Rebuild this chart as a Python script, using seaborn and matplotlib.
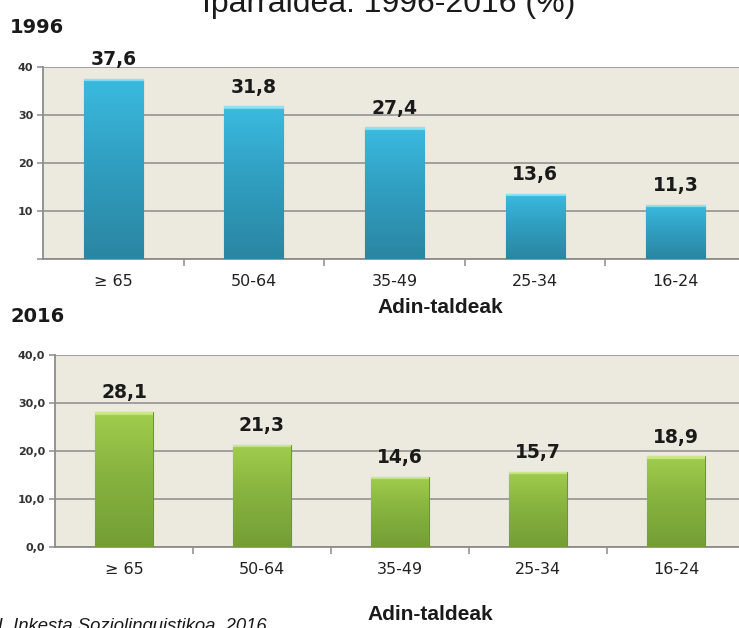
import numpy as np
import pandas as pd
import matplotlib
matplotlib.use("Agg")
import matplotlib.pyplot as plt
import seaborn as sns
from matplotlib.colors import LinearSegmentedColormap

# data
groups = ["≥ 65", "50-64", "35-49", "25-34", "16-24"]
share_1996 = [37.6, 31.8, 27.4, 13.6, 11.3]
share_2016 = [28.1, 21.3, 14.6, 15.7, 18.9]
ticks_1996 = [0, 10, 20, 30, 40]
ticklabels_1996 = ["", "10", "20", "30", "40"]
ticks_2016 = [0, 10, 20, 30, 40]
ticklabels_2016 = ["0,0", "10,0", "20,0", "30,0", "40,0"]

sns.set_style("white")
plt.rcParams["font.family"] = ["DejaVu Sans"]

BG = "#ECE9DF"
GRID = "#8C8C8C"

blue_cmap = LinearSegmentedColormap.from_list(
    "b", [(0, "#2A86A2"), (0.5, "#31A0C2"), (0.9, "#3ABBE0"), (1.0, "#8AE4F6")])
green_cmap = LinearSegmentedColormap.from_list(
    "g", [(0, "#749E35"), (0.5, "#88B440"), (0.9, "#A1CD4D"), (1.0, "#CBE88A")])


def draw_panel(ax, values, ticks, ticklabels, cmap, base_color, edge):
    df = pd.DataFrame({"group": groups, "value": values})
    sns.barplot(data=df, x="group", y="value", ax=ax, width=0.42,
                color=base_color, saturation=1, edgecolor=edge, linewidth=0.8, zorder=3)
    # vertical gradient clipped to each bar, thin highlight at the top edge
    for patch in ax.patches:
        x0, y0 = patch.get_x(), patch.get_y()
        w, h = patch.get_width(), patch.get_height()
        n = max(int(h / 0.05), 2)
        pos = np.linspace(0, h, n)
        grad = np.where(pos > h - 0.6, 1.0, 0.9 * pos / h).reshape(-1, 1)
        im = ax.imshow(grad, extent=[x0, x0 + w, y0, y0 + h], origin="lower",
                       aspect="auto", cmap=cmap, zorder=3.5, vmin=0, vmax=1,
                       interpolation="bilinear")
        im.set_clip_path(patch)
    ax.set_xlim(-0.5, 4.5)
    ax.set_ylim(0, 40)
    ax.set_facecolor(BG)
    ax.set_yticks(ticks)
    ax.set_yticklabels(ticklabels, fontsize=8, fontweight="bold", color="#333333")
    ax.yaxis.grid(True, color=GRID, linewidth=1.1, zorder=1)
    ax.set_axisbelow(True)
    for side in ["top", "right"]:
        ax.spines[side].set_visible(False)
    for side in ["left", "bottom"]:
        ax.spines[side].set_color(GRID)
        ax.spines[side].set_linewidth(1.3)
    ax.tick_params(axis="y", length=4, width=1.1, color=GRID, pad=3, left=True)
    ax.tick_params(axis="x", which="major", length=0, pad=11, labelsize=11.5, labelcolor="#222222")
    ax.set_xticks([0.5, 1.5, 2.5, 3.5], minor=True)
    ax.tick_params(axis="x", which="minor", length=5, width=1.1, color=GRID, bottom=True)
    ax.set_ylabel("")
    labels = [f"{v:.1f}".replace(".", ",") for v in values]
    ax.bar_label(ax.containers[0], labels=labels, padding=7, fontsize=13.5,
                 fontweight="bold", color="#1A1A1A")


fig = plt.figure(figsize=(7.39, 6.28), dpi=100)
ax1 = fig.add_axes([43 / 739, 1 - 259 / 628, 703 / 739, 192 / 628])
ax2 = fig.add_axes([55 / 739, 1 - 547 / 628, 690 / 739, 192 / 628])

draw_panel(ax1, share_1996, ticks_1996, ticklabels_1996, blue_cmap, "#35AACD", "#2A7F99")
draw_panel(ax2, share_2016, ticks_2016, ticklabels_2016, green_cmap, "#8DBA42", "#6E9532")

ax1.set_xlabel("Adin-taldeak", fontsize=15, fontweight="bold",
               family="Liberation Sans", color="#1A1A1A")
ax1.xaxis.set_label_coords((440 - 43) / 703, (259 - 298) / 192)
ax2.set_xlabel("Adin-taldeak", fontsize=15, fontweight="bold",
               family="Liberation Sans", color="#1A1A1A")
ax2.xaxis.set_label_coords((430 - 55) / 690, (547 - 605) / 192)

fig.text(10 / 739, 1 - 33 / 628, "1996", fontsize=14, fontweight="bold",
         va="baseline", color="#1A1A1A")
fig.text(11 / 739, 1 - 322 / 628, "2016", fontsize=14, fontweight="bold",
         va="baseline", color="#1A1A1A")
fig.text(389 / 739, 1 - 12 / 628, "Iparraldea: 1996-2016 (%)", fontsize=23,
         family="Liberation Sans", ha="center", va="baseline", color="#1A1A1A")
fig.text(267 / 739, 1 - 631 / 628, "Iturria: VI. Inkesta Soziolinguistikoa, 2016",
         fontsize=13.3, family="Liberation Sans", style="italic",
         ha="right", va="baseline", color="#1A1A1A")

fig.savefig("out.png", dpi=100)
